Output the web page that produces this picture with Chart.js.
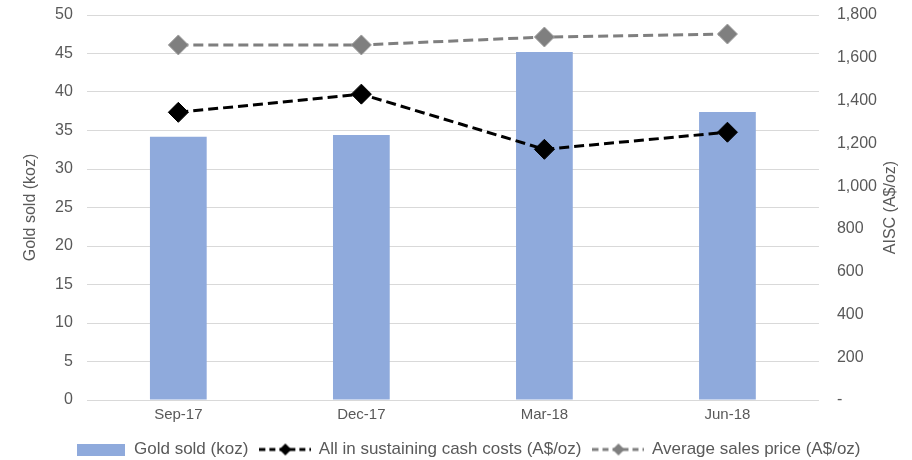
<!DOCTYPE html>
<html>
<head>
<meta charset="utf-8">
<script src="https://cdn.jsdelivr.net/npm/chart.js@4.4.1/dist/chart.umd.min.js"></script>
<style>
  html, body { margin: 0; padding: 0; background: #fff; }
  #wrap { width: 912px; height: 460px; }
</style>
</head>
<body>
<div id="wrap"><canvas id="goldChart" width="912" height="460"></canvas></div>
<script>
// quarters
const quarters = ["Sep-17", "Dec-17", "Mar-18", "Jun-18"];
// koz, left axis
const goldSold = [34.2, 34.4, 45.2, 37.4];
// A$/oz, right axis
const aisc = [1345, 1430, 1172, 1252];
const avgPrice = [1660, 1660, 1697, 1711];

const BLUE = "#8faadc";
const GREY = "#7f7f7f";
const TEXT = "#595959";
const FONT = "'Liberation Sans', Arial, sans-serif";

// little legend icons: dashed line with a diamond in the middle
function lineIcon(color) {
  const c = document.createElement("canvas");
  c.width = 52; c.height = 14;
  const g = c.getContext("2d");
  g.strokeStyle = color;
  g.lineWidth = 3;
  g.setLineDash([6, 4]);
  g.beginPath();
  g.moveTo(0, 7); g.lineTo(52, 7);
  g.stroke();
  g.fillStyle = color;
  g.beginPath();
  g.moveTo(26, 1); g.lineTo(32, 7); g.lineTo(26, 13); g.lineTo(20, 7);
  g.closePath();
  g.fill();
  return c;
}
function boxIcon(color) {
  const c = document.createElement("canvas");
  c.width = 48; c.height = 12;
  const g = c.getContext("2d");
  g.fillStyle = color;
  g.fillRect(0, 0, 48, 12);
  return c;
}
const legendIcons = [boxIcon(BLUE), lineIcon("#000"), lineIcon(GREY)];

// axis titles, both read bottom-to-top like the excel original
const axisTitles = {
  id: "axisTitles",
  afterDraw(chart) {
    const { ctx, chartArea: a } = chart;
    const midY = (a.top + a.bottom) / 2;
    ctx.save();
    ctx.fillStyle = TEXT;
    ctx.font = "16px " + FONT;
    ctx.textAlign = "center";
    ctx.textBaseline = "middle";
    [["Gold sold (koz)", a.left - 56], ["AISC (A$/oz)", a.right + 72]].forEach(([t, x]) => {
      ctx.save();
      ctx.translate(x, midY);
      ctx.rotate(-Math.PI / 2);
      ctx.fillText(t, 0, 0);
      ctx.restore();
    });
    ctx.restore();
  },
};

// tick padding also pads the top of vertical scales, undo that
const noTopPad = (s) => { s.paddingTop = 0; s.paddingBottom = 0; };

const ctx = document.getElementById("goldChart");
new Chart(ctx, {
  data: {
    labels: quarters,
    datasets: [
      {
        type: "bar",
        label: "Gold sold (koz)",
        data: goldSold,
        backgroundColor: BLUE,
        yAxisID: "y",
        barPercentage: 0.31,
        categoryPercentage: 1,
        order: 3,
      },
      {
        type: "line",
        label: "All in sustaining cash costs (A$/oz)",
        data: aisc,
        yAxisID: "y1",
        borderColor: "#000",
        backgroundColor: "#000",
        borderWidth: 3,
        borderDash: [10, 5],
        pointStyle: "rectRot",
        pointRadius: 10,
        pointBackgroundColor: "#000",
        pointBorderColor: "#000",
        pointBorderWidth: 1,
        tension: 0,
        order: 2,
      },
      {
        type: "line",
        label: "Average sales price (A$/oz)",
        data: avgPrice,
        yAxisID: "y1",
        borderColor: GREY,
        backgroundColor: GREY,
        borderWidth: 3,
        borderDash: [10, 5],
        pointStyle: "rectRot",
        pointRadius: 10,
        pointBackgroundColor: GREY,
        pointBorderColor: "#a0a0a0",
        pointBorderWidth: 1,
        tension: 0,
        order: 1,
      },
    ],
  },
  plugins: [axisTitles],
  options: {
    responsive: false,
    animation: false,
    layout: { autoPadding: false, padding: { left: 41, right: 17, top: 15, bottom: -8 } },
    font: { family: FONT },
    plugins: {
      tooltip: { enabled: false },
      legend: {
        position: "bottom",
        labels: {
          usePointStyle: true,
          pointStyleWidth: 50,
          padding: 12,
          color: TEXT,
          font: { family: FONT, size: 17 },
          sort: (a, b) => a.datasetIndex - b.datasetIndex,
          generateLabels: (chart) => {
            const items = Chart.defaults.plugins.legend.labels.generateLabels(chart);
            items.forEach((it) => { it.pointStyle = legendIcons[it.datasetIndex]; });
            return items;
          },
        },
      },
    },
    scales: {
      x: {
        grid: { display: false, drawTicks: false },
        border: { display: false },
        ticks: { color: TEXT, padding: 5.5, font: { family: FONT, size: 15 } },
      },
      y: {
        position: "left",
        min: 0,
        max: 50,
        afterFit: noTopPad,
        ticks: { stepSize: 5, color: TEXT, padding: 14, font: { family: FONT, size: 16 } },
        grid: { color: "#d9d9d9", drawTicks: false },
        border: { display: false },
      },
      y1: {
        position: "right",
        min: 0,
        max: 1800,
        afterFit: noTopPad,
        ticks: {
          stepSize: 200,
          color: TEXT,
          padding: 18,
          font: { family: FONT, size: 16 },
          callback: (v) => (v === 0 ? "-" : v.toLocaleString("en-US")),
        },
        grid: { display: false, drawTicks: false },
        border: { display: false },
      },
    },
  },
});
</script>
</body>
</html>
